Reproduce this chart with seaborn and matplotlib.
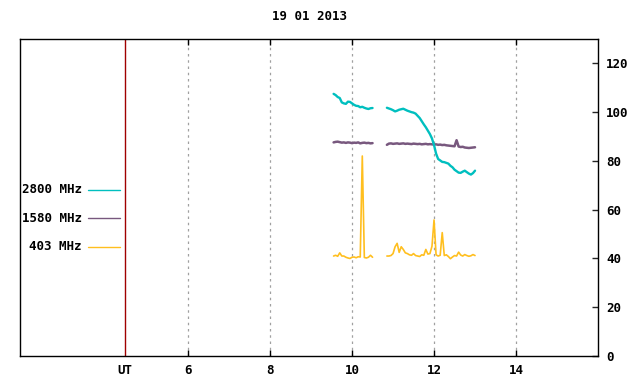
import numpy as np
import pandas as pd
import matplotlib
matplotlib.use("Agg")
import matplotlib.pyplot as plt
import seaborn as sns
from matplotlib.lines import Line2D

title = "19 01 2013"
bands = ["2800 MHz", "1580 MHz", "403 MHz"]
colors = ["#00bfbf", "#78587e", "#ffbf1f"]

# time samples (UT hours), two observation segments
t_seg1 = [9.55, 9.60, 9.65, 9.70, 9.75, 9.80, 9.85, 9.90, 9.95, 10.00,
          10.05, 10.10, 10.15, 10.20, 10.25, 10.30, 10.35, 10.40, 10.45, 10.50]
t_seg2 = [10.85, 10.90, 10.95, 11.00, 11.05, 11.10, 11.15, 11.20, 11.25, 11.30,
          11.35, 11.40, 11.45, 11.50, 11.55, 11.60, 11.65, 11.70, 11.75, 11.80,
          11.85, 11.90, 11.95, 12.00, 12.05, 12.10, 12.15, 12.20, 12.25, 12.30,
          12.35, 12.40, 12.45, 12.50, 12.55, 12.60, 12.65, 12.70, 12.75, 12.80,
          12.85, 12.90, 12.95, 13.00]

f2800_seg1 = [107.5, 107.0, 106.2, 105.8, 104.0, 103.6, 103.4, 104.3, 104.2, 103.6,
              103.0, 102.6, 102.5, 102.0, 102.2, 101.8, 101.5, 101.3, 101.6, 101.7]
f2800_seg2 = [101.8, 101.5, 101.2, 100.8, 100.3, 100.6, 101.0, 101.2, 101.4, 101.0,
              100.6, 100.3, 100.0, 99.8, 99.4, 98.5, 97.6, 96.3, 95.0, 93.8,
              92.4, 91.0, 89.2, 86.5, 83.0, 80.8, 80.2, 79.6, 79.5, 79.2,
              78.9, 78.0, 77.4, 76.4, 75.8, 75.2, 75.1, 75.6, 76.0, 75.4,
              74.8, 74.4, 75.0, 76.0]

f1580_seg1 = [87.6, 87.8, 87.9, 87.7, 87.5, 87.6, 87.4, 87.6, 87.5, 87.3,
              87.5, 87.4, 87.6, 87.2, 87.4, 87.5, 87.3, 87.4, 87.2, 87.3]
f1580_seg2 = [86.6, 87.1, 87.2, 87.0, 87.1, 87.2, 87.0, 87.1, 87.2, 87.0,
              87.1, 87.0, 86.9, 87.1, 87.0, 86.9, 87.0, 86.8, 86.9, 87.0,
              86.8, 86.9, 86.8, 86.7, 86.8, 86.6, 86.7, 86.5, 86.6, 86.4,
              86.3, 86.2, 86.1, 86.0, 88.5, 85.9, 85.7, 85.8, 85.5, 85.4,
              85.3, 85.4, 85.5, 85.6]

f403_seg1 = [41.0, 41.3, 40.9, 42.3, 41.0, 41.0, 40.5, 40.2, 40.0, 40.5,
             40.6, 40.3, 40.7, 40.6, 82.0, 40.4, 40.2, 40.5, 41.3, 40.5]
f403_seg2 = [41.0, 41.0, 41.2, 42.0, 44.8, 46.2, 42.5, 44.8, 43.7, 42.3,
             42.0, 41.5, 41.3, 42.0, 41.2, 41.0, 40.8, 41.5, 41.3, 43.7,
             41.8, 42.0, 45.0, 55.8, 41.5, 41.0, 41.3, 50.6, 41.2, 41.5,
             40.8, 39.9, 40.6, 41.2, 41.0, 42.6, 41.4, 41.0, 41.6, 41.2,
             40.9, 41.1, 41.6, 41.2]

ut_mark = 4.45
xticks = [6, 8, 10, 12, 14]
yticks = [0, 20, 40, 60, 80, 100, 120]

rows = []
for band, s1, s2 in [(bands[0], f2800_seg1, f2800_seg2),
                     (bands[1], f1580_seg1, f1580_seg2),
                     (bands[2], f403_seg1, f403_seg2)]:
    for t, v in zip(t_seg1, s1):
        rows.append((band, 1, t, v))
    for t, v in zip(t_seg2, s2):
        rows.append((band, 2, t, v))
df = pd.DataFrame(rows, columns=["band", "seg", "t", "v"])

sns.set_style("white")
plt.rcParams['font.family'] = ['DejaVu Sans Mono', 'DejaVu Sans']
plt.rcParams['font.weight'] = 'bold'

fig = plt.figure(figsize=(6.4, 3.84), dpi=100)
ax = fig.add_axes([20/640, 1-356/384, 578/640, 317/384])

# draw 403 first, then 1580, then 2800 on top
order = [bands[2], bands[1], bands[0]]
widths = {bands[0]: 1.7, bands[1]: 1.8, bands[2]: 1.2}
pal = dict(zip(bands, colors))
for b in order:
    sns.lineplot(data=df[df.band == b], x="t", y="v", hue="band", units="seg",
                 estimator=None, palette=pal, legend=False, ax=ax,
                 linewidth=widths[b])

ax.set_xlim(1.9, 16.0)
ax.set_ylim(0, 130)

ax.axvline(ut_mark, color="#a00000", lw=1.0, zorder=1)

ax.set_xticks([ut_mark] + xticks)
ax.set_xticklabels(["UT"] + [str(x) for x in xticks], fontsize=9, fontweight='bold')
for x in xticks:
    ax.axvline(x, color="#a0a0a0", lw=0.9, ls=(0, (2, 3)), zorder=0)
ax.tick_params(axis='x', direction='in', length=4, width=1, top=True, bottom=True,
               pad=6, color='black')
ax.yaxis.tick_right()
ax.set_yticks(yticks)
ax.set_yticklabels([str(y) for y in yticks], fontsize=9, fontweight='bold')
ax.tick_params(axis='y', direction='in', length=4, width=1, right=True, left=False, pad=6)
# hide the UT tick mark
ax.xaxis.get_major_ticks()[0].tick1line.set_visible(False)
ax.xaxis.get_major_ticks()[0].tick2line.set_visible(False)
ax.set_xlabel("")
ax.set_ylabel("")
for sp in ax.spines.values():
    sp.set_color("black")
    sp.set_linewidth(1.0)
    sp.set_visible(True)

ax.set_title(title, fontsize=9, fontweight='bold', pad=14, color='black')
for lab in ax.get_xticklabels() + ax.get_yticklabels():
    lab.set_color('black')

# gnuplot-style key inside the left part of the plot
key_y = [0.5237, 0.4353, 0.344]
for b, c, yk in zip(bands, colors, key_y):
    ax.text(0.107, yk, b, transform=ax.transAxes, ha='right', va='center',
            fontsize=9, fontweight='bold', color='black')
    ax.add_line(Line2D([0.1176, 0.173], [yk, yk], transform=ax.transAxes,
                       color=c, lw=1.0))

fig.savefig("out.png", dpi=100)
